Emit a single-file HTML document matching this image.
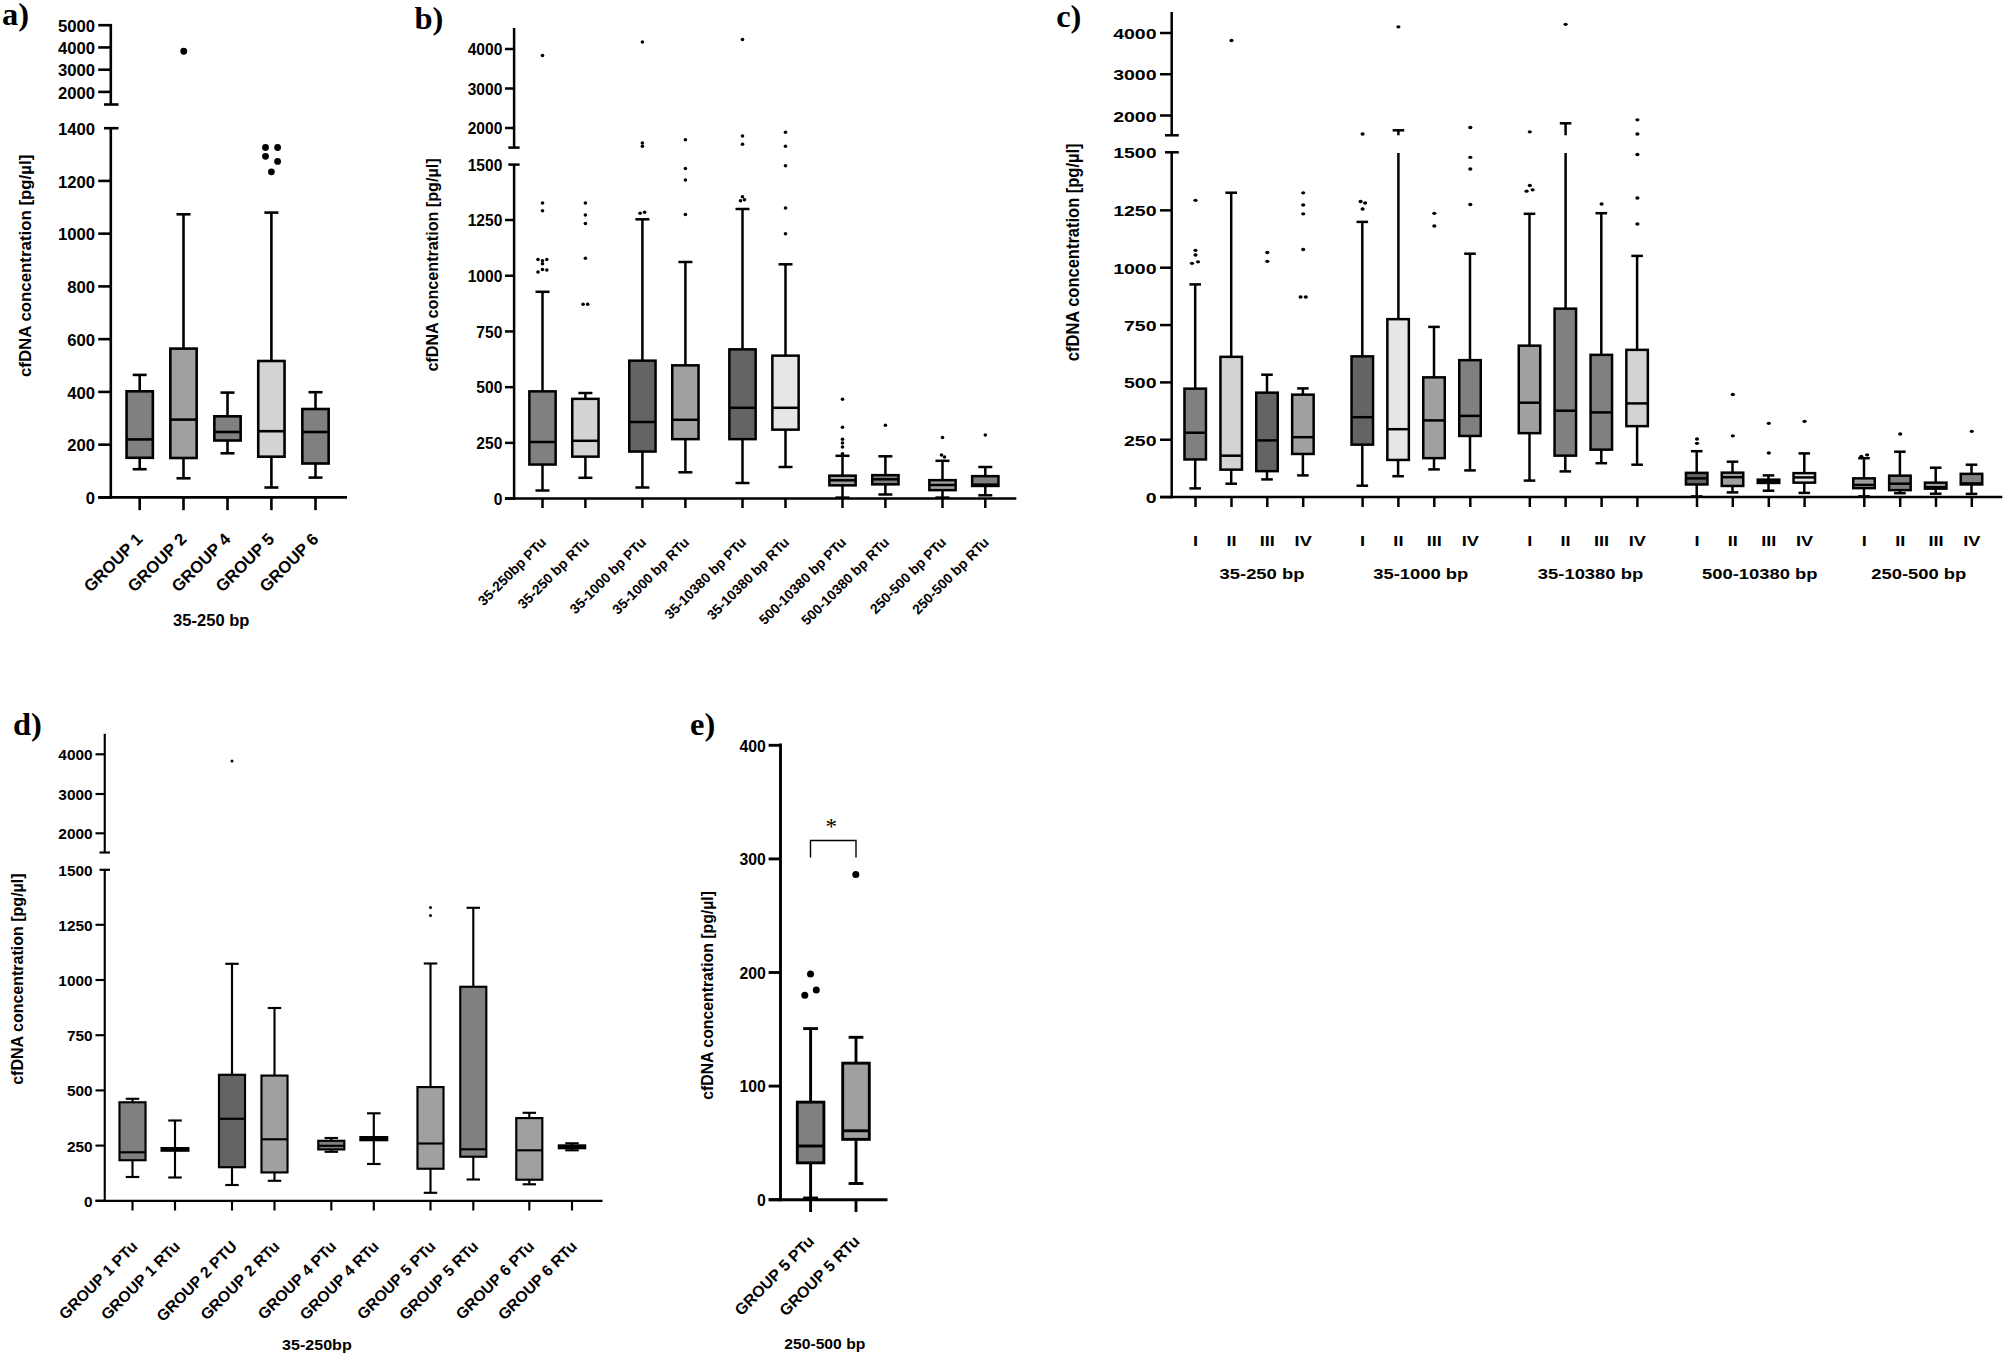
<!DOCTYPE html>
<html lang="en">
<head>
<meta charset="utf-8">
<title>cfDNA concentration box plots</title>
<style>
html,body{margin:0;padding:0;background:#fff;}
body{width:2006px;height:1360px;overflow:hidden;}
svg{display:block;}
text{fill:#000;}
</style>
</head>
<body>
<svg width="2006" height="1360" viewBox="0 0 2006 1360">
<rect width="2006" height="1360" fill="#fff"/>
<text x="1.9" y="25" font-family='"Liberation Serif", "Times New Roman", serif' font-size="32.5" font-weight="bold" text-anchor="start">a)</text>
<line x1="110.8" y1="23.9" x2="110.8" y2="104.5" stroke="#000" stroke-width="2.6" stroke-linecap="butt"/>
<line x1="104" y1="104.5" x2="118.5" y2="104.5" stroke="#000" stroke-width="2.6" stroke-linecap="butt"/>
<line x1="110.8" y1="128.2" x2="110.8" y2="498.7" stroke="#000" stroke-width="2.6" stroke-linecap="butt"/>
<line x1="104" y1="128.2" x2="118.5" y2="128.2" stroke="#000" stroke-width="2.6" stroke-linecap="butt"/>
<line x1="98.2" y1="25.2" x2="110.8" y2="25.2" stroke="#000" stroke-width="2.6" stroke-linecap="butt"/>
<text x="95" y="31.8" font-family='"Liberation Sans", Arial, sans-serif' font-size="16.5" font-weight="bold" text-anchor="end" textLength="37.07" lengthAdjust="spacingAndGlyphs">5000</text>
<line x1="98.2" y1="47.45" x2="110.8" y2="47.45" stroke="#000" stroke-width="2.6" stroke-linecap="butt"/>
<text x="95" y="54.05" font-family='"Liberation Sans", Arial, sans-serif' font-size="16.5" font-weight="bold" text-anchor="end" textLength="37.07" lengthAdjust="spacingAndGlyphs">4000</text>
<line x1="98.2" y1="69.7" x2="110.8" y2="69.7" stroke="#000" stroke-width="2.6" stroke-linecap="butt"/>
<text x="95" y="76.3" font-family='"Liberation Sans", Arial, sans-serif' font-size="16.5" font-weight="bold" text-anchor="end" textLength="37.07" lengthAdjust="spacingAndGlyphs">3000</text>
<line x1="98.2" y1="91.9" x2="110.8" y2="91.9" stroke="#000" stroke-width="2.6" stroke-linecap="butt"/>
<text x="95" y="98.5" font-family='"Liberation Sans", Arial, sans-serif' font-size="16.5" font-weight="bold" text-anchor="end" textLength="37.07" lengthAdjust="spacingAndGlyphs">2000</text>
<text x="95" y="134.8" font-family='"Liberation Sans", Arial, sans-serif' font-size="16.5" font-weight="bold" text-anchor="end" textLength="37.07" lengthAdjust="spacingAndGlyphs">1400</text>
<line x1="98.2" y1="180.9" x2="110.8" y2="180.9" stroke="#000" stroke-width="2.6" stroke-linecap="butt"/>
<text x="95" y="187.5" font-family='"Liberation Sans", Arial, sans-serif' font-size="16.5" font-weight="bold" text-anchor="end" textLength="37.07" lengthAdjust="spacingAndGlyphs">1200</text>
<line x1="98.2" y1="233.65" x2="110.8" y2="233.65" stroke="#000" stroke-width="2.6" stroke-linecap="butt"/>
<text x="95" y="240.25" font-family='"Liberation Sans", Arial, sans-serif' font-size="16.5" font-weight="bold" text-anchor="end" textLength="37.07" lengthAdjust="spacingAndGlyphs">1000</text>
<line x1="98.2" y1="286.4" x2="110.8" y2="286.4" stroke="#000" stroke-width="2.6" stroke-linecap="butt"/>
<text x="95" y="293" font-family='"Liberation Sans", Arial, sans-serif' font-size="16.5" font-weight="bold" text-anchor="end" textLength="27.8" lengthAdjust="spacingAndGlyphs">800</text>
<line x1="98.2" y1="339.15" x2="110.8" y2="339.15" stroke="#000" stroke-width="2.6" stroke-linecap="butt"/>
<text x="95" y="345.75" font-family='"Liberation Sans", Arial, sans-serif' font-size="16.5" font-weight="bold" text-anchor="end" textLength="27.8" lengthAdjust="spacingAndGlyphs">600</text>
<line x1="98.2" y1="391.9" x2="110.8" y2="391.9" stroke="#000" stroke-width="2.6" stroke-linecap="butt"/>
<text x="95" y="398.5" font-family='"Liberation Sans", Arial, sans-serif' font-size="16.5" font-weight="bold" text-anchor="end" textLength="27.8" lengthAdjust="spacingAndGlyphs">400</text>
<line x1="98.2" y1="444.65" x2="110.8" y2="444.65" stroke="#000" stroke-width="2.6" stroke-linecap="butt"/>
<text x="95" y="451.25" font-family='"Liberation Sans", Arial, sans-serif' font-size="16.5" font-weight="bold" text-anchor="end" textLength="27.8" lengthAdjust="spacingAndGlyphs">200</text>
<line x1="98.2" y1="497.4" x2="110.8" y2="497.4" stroke="#000" stroke-width="2.6" stroke-linecap="butt"/>
<text x="95" y="504" font-family='"Liberation Sans", Arial, sans-serif' font-size="16.5" font-weight="bold" text-anchor="end" textLength="9.27" lengthAdjust="spacingAndGlyphs">0</text>
<line x1="98.2" y1="497.4" x2="347" y2="497.4" stroke="#000" stroke-width="2.6" stroke-linecap="butt"/>
<line x1="139.7" y1="497.4" x2="139.7" y2="510.2" stroke="#000" stroke-width="2.6" stroke-linecap="butt"/>
<line x1="183.5" y1="497.4" x2="183.5" y2="510.2" stroke="#000" stroke-width="2.6" stroke-linecap="butt"/>
<line x1="227.5" y1="497.4" x2="227.5" y2="510.2" stroke="#000" stroke-width="2.6" stroke-linecap="butt"/>
<line x1="271.4" y1="497.4" x2="271.4" y2="510.2" stroke="#000" stroke-width="2.6" stroke-linecap="butt"/>
<line x1="315.5" y1="497.4" x2="315.5" y2="510.2" stroke="#000" stroke-width="2.6" stroke-linecap="butt"/>
<text x="30.9" y="265.9" font-family='"Liberation Sans", Arial, sans-serif' font-size="16.6" font-weight="bold" text-anchor="middle" textLength="222.4" lengthAdjust="spacingAndGlyphs" transform="rotate(-90 30.9 265.9)">cfDNA concentration [pg/µl]</text>
<line x1="139.7" y1="374.9" x2="139.7" y2="391.3" stroke="#000" stroke-width="2.6" stroke-linecap="butt"/>
<line x1="132.7" y1="374.9" x2="146.7" y2="374.9" stroke="#000" stroke-width="2.6" stroke-linecap="butt"/>
<line x1="139.7" y1="457.8" x2="139.7" y2="469.2" stroke="#000" stroke-width="2.6" stroke-linecap="butt"/>
<line x1="132.7" y1="469.2" x2="146.7" y2="469.2" stroke="#000" stroke-width="2.6" stroke-linecap="butt"/>
<rect x="126.55" y="391.3" width="26.3" height="66.5" fill="#808080" stroke="#000" stroke-width="2.6"/>
<line x1="126.55" y1="439.4" x2="152.85" y2="439.4" stroke="#000" stroke-width="2.6" stroke-linecap="butt"/>
<line x1="183.5" y1="214.3" x2="183.5" y2="348.6" stroke="#000" stroke-width="2.6" stroke-linecap="butt"/>
<line x1="176.5" y1="214.3" x2="190.5" y2="214.3" stroke="#000" stroke-width="2.6" stroke-linecap="butt"/>
<line x1="183.5" y1="458" x2="183.5" y2="478.3" stroke="#000" stroke-width="2.6" stroke-linecap="butt"/>
<line x1="176.5" y1="478.3" x2="190.5" y2="478.3" stroke="#000" stroke-width="2.6" stroke-linecap="butt"/>
<rect x="170.35" y="348.6" width="26.3" height="109.4" fill="#a0a0a0" stroke="#000" stroke-width="2.6"/>
<line x1="170.35" y1="419.6" x2="196.65" y2="419.6" stroke="#000" stroke-width="2.6" stroke-linecap="butt"/>
<line x1="227.5" y1="392.6" x2="227.5" y2="416.3" stroke="#000" stroke-width="2.6" stroke-linecap="butt"/>
<line x1="220.5" y1="392.6" x2="234.5" y2="392.6" stroke="#000" stroke-width="2.6" stroke-linecap="butt"/>
<line x1="227.5" y1="440.5" x2="227.5" y2="453.3" stroke="#000" stroke-width="2.6" stroke-linecap="butt"/>
<line x1="220.5" y1="453.3" x2="234.5" y2="453.3" stroke="#000" stroke-width="2.6" stroke-linecap="butt"/>
<rect x="214.35" y="416.3" width="26.3" height="24.2" fill="#808080" stroke="#000" stroke-width="2.6"/>
<line x1="214.35" y1="432" x2="240.65" y2="432" stroke="#000" stroke-width="2.6" stroke-linecap="butt"/>
<line x1="271.4" y1="212.6" x2="271.4" y2="361" stroke="#000" stroke-width="2.6" stroke-linecap="butt"/>
<line x1="264.4" y1="212.6" x2="278.4" y2="212.6" stroke="#000" stroke-width="2.6" stroke-linecap="butt"/>
<line x1="271.4" y1="456.7" x2="271.4" y2="487.5" stroke="#000" stroke-width="2.6" stroke-linecap="butt"/>
<line x1="264.4" y1="487.5" x2="278.4" y2="487.5" stroke="#000" stroke-width="2.6" stroke-linecap="butt"/>
<rect x="258.25" y="361" width="26.3" height="95.7" fill="#d3d3d3" stroke="#000" stroke-width="2.6"/>
<line x1="258.25" y1="431.2" x2="284.55" y2="431.2" stroke="#000" stroke-width="2.6" stroke-linecap="butt"/>
<line x1="315.5" y1="392.2" x2="315.5" y2="409" stroke="#000" stroke-width="2.6" stroke-linecap="butt"/>
<line x1="308.5" y1="392.2" x2="322.5" y2="392.2" stroke="#000" stroke-width="2.6" stroke-linecap="butt"/>
<line x1="315.5" y1="463.5" x2="315.5" y2="477.6" stroke="#000" stroke-width="2.6" stroke-linecap="butt"/>
<line x1="308.5" y1="477.6" x2="322.5" y2="477.6" stroke="#000" stroke-width="2.6" stroke-linecap="butt"/>
<rect x="302.35" y="409" width="26.3" height="54.5" fill="#808080" stroke="#000" stroke-width="2.6"/>
<line x1="302.35" y1="432" x2="328.65" y2="432" stroke="#000" stroke-width="2.6" stroke-linecap="butt"/>
<circle cx="183.75" cy="51.25" r="3.4" fill="#000"/>
<circle cx="265.5" cy="147.5" r="3.4" fill="#000"/>
<circle cx="277.6" cy="147.5" r="3.4" fill="#000"/>
<circle cx="265.5" cy="156.3" r="3.4" fill="#000"/>
<circle cx="277.6" cy="161.4" r="3.4" fill="#000"/>
<circle cx="271.4" cy="171.8" r="3.4" fill="#000"/>
<text x="143.7" y="540.2" font-family='"Liberation Sans", Arial, sans-serif' font-size="16.7" font-weight="bold" text-anchor="end" transform="rotate(-45 143.7 540.2)">GROUP 1</text>
<text x="187.5" y="540.2" font-family='"Liberation Sans", Arial, sans-serif' font-size="16.7" font-weight="bold" text-anchor="end" transform="rotate(-45 187.5 540.2)">GROUP 2</text>
<text x="231.5" y="540.2" font-family='"Liberation Sans", Arial, sans-serif' font-size="16.7" font-weight="bold" text-anchor="end" transform="rotate(-45 231.5 540.2)">GROUP 4</text>
<text x="275.4" y="540.2" font-family='"Liberation Sans", Arial, sans-serif' font-size="16.7" font-weight="bold" text-anchor="end" transform="rotate(-45 275.4 540.2)">GROUP 5</text>
<text x="319.5" y="540.2" font-family='"Liberation Sans", Arial, sans-serif' font-size="16.7" font-weight="bold" text-anchor="end" transform="rotate(-45 319.5 540.2)">GROUP 6</text>
<text x="211.3" y="626.2" font-family='"Liberation Sans", Arial, sans-serif' font-size="16.6" font-weight="bold" text-anchor="middle" textLength="76.4" lengthAdjust="spacingAndGlyphs">35-250 bp</text>
<text x="414.4" y="28.5" font-family='"Liberation Serif", "Times New Roman", serif' font-size="32.5" font-weight="bold" text-anchor="start">b)</text>
<line x1="514.1" y1="28" x2="514.1" y2="147.6" stroke="#000" stroke-width="2.5" stroke-linecap="butt"/>
<line x1="508.3" y1="147.6" x2="519.6" y2="147.6" stroke="#000" stroke-width="2.5" stroke-linecap="butt"/>
<line x1="514.1" y1="164.6" x2="514.1" y2="499.85" stroke="#000" stroke-width="2.5" stroke-linecap="butt"/>
<line x1="508.3" y1="164.6" x2="519.6" y2="164.6" stroke="#000" stroke-width="2.5" stroke-linecap="butt"/>
<line x1="505" y1="49" x2="514.1" y2="49" stroke="#000" stroke-width="2.5" stroke-linecap="butt"/>
<text x="502.4" y="55.2" font-family='"Liberation Sans", Arial, sans-serif' font-size="15.6" font-weight="bold" text-anchor="end">4000</text>
<line x1="505" y1="88.5" x2="514.1" y2="88.5" stroke="#000" stroke-width="2.5" stroke-linecap="butt"/>
<text x="502.4" y="94.7" font-family='"Liberation Sans", Arial, sans-serif' font-size="15.6" font-weight="bold" text-anchor="end">3000</text>
<line x1="505" y1="128" x2="514.1" y2="128" stroke="#000" stroke-width="2.5" stroke-linecap="butt"/>
<text x="502.4" y="134.2" font-family='"Liberation Sans", Arial, sans-serif' font-size="15.6" font-weight="bold" text-anchor="end">2000</text>
<text x="502.4" y="170.8" font-family='"Liberation Sans", Arial, sans-serif' font-size="15.6" font-weight="bold" text-anchor="end">1500</text>
<line x1="505" y1="220" x2="514.1" y2="220" stroke="#000" stroke-width="2.5" stroke-linecap="butt"/>
<text x="502.4" y="226.2" font-family='"Liberation Sans", Arial, sans-serif' font-size="15.6" font-weight="bold" text-anchor="end">1250</text>
<line x1="505" y1="275.72" x2="514.1" y2="275.72" stroke="#000" stroke-width="2.5" stroke-linecap="butt"/>
<text x="502.4" y="281.92" font-family='"Liberation Sans", Arial, sans-serif' font-size="15.6" font-weight="bold" text-anchor="end">1000</text>
<line x1="505" y1="331.44" x2="514.1" y2="331.44" stroke="#000" stroke-width="2.5" stroke-linecap="butt"/>
<text x="502.4" y="337.64" font-family='"Liberation Sans", Arial, sans-serif' font-size="15.6" font-weight="bold" text-anchor="end">750</text>
<line x1="505" y1="387.16" x2="514.1" y2="387.16" stroke="#000" stroke-width="2.5" stroke-linecap="butt"/>
<text x="502.4" y="393.36" font-family='"Liberation Sans", Arial, sans-serif' font-size="15.6" font-weight="bold" text-anchor="end">500</text>
<line x1="505" y1="442.88" x2="514.1" y2="442.88" stroke="#000" stroke-width="2.5" stroke-linecap="butt"/>
<text x="502.4" y="449.08" font-family='"Liberation Sans", Arial, sans-serif' font-size="15.6" font-weight="bold" text-anchor="end">250</text>
<line x1="505" y1="498.6" x2="514.1" y2="498.6" stroke="#000" stroke-width="2.5" stroke-linecap="butt"/>
<text x="502.4" y="504.8" font-family='"Liberation Sans", Arial, sans-serif' font-size="15.6" font-weight="bold" text-anchor="end">0</text>
<line x1="505" y1="498.6" x2="1016.3" y2="498.6" stroke="#000" stroke-width="2.5" stroke-linecap="butt"/>
<line x1="542.5" y1="498.6" x2="542.5" y2="508" stroke="#000" stroke-width="2.5" stroke-linecap="butt"/>
<line x1="585.4" y1="498.6" x2="585.4" y2="508" stroke="#000" stroke-width="2.5" stroke-linecap="butt"/>
<line x1="642.4" y1="498.6" x2="642.4" y2="508" stroke="#000" stroke-width="2.5" stroke-linecap="butt"/>
<line x1="685.4" y1="498.6" x2="685.4" y2="508" stroke="#000" stroke-width="2.5" stroke-linecap="butt"/>
<line x1="742.5" y1="498.6" x2="742.5" y2="508" stroke="#000" stroke-width="2.5" stroke-linecap="butt"/>
<line x1="785.5" y1="498.6" x2="785.5" y2="508" stroke="#000" stroke-width="2.5" stroke-linecap="butt"/>
<line x1="842.5" y1="498.6" x2="842.5" y2="508" stroke="#000" stroke-width="2.5" stroke-linecap="butt"/>
<line x1="885.4" y1="498.6" x2="885.4" y2="508" stroke="#000" stroke-width="2.5" stroke-linecap="butt"/>
<line x1="942.5" y1="498.6" x2="942.5" y2="508" stroke="#000" stroke-width="2.5" stroke-linecap="butt"/>
<line x1="985.3" y1="498.6" x2="985.3" y2="508" stroke="#000" stroke-width="2.5" stroke-linecap="butt"/>
<text x="437.5" y="265" font-family='"Liberation Sans", Arial, sans-serif' font-size="16" font-weight="bold" text-anchor="middle" textLength="213.2" lengthAdjust="spacingAndGlyphs" transform="rotate(-90 437.5 265)">cfDNA concentration [pg/µl]</text>
<line x1="542.5" y1="291.8" x2="542.5" y2="391.35" stroke="#000" stroke-width="2.5" stroke-linecap="butt"/>
<line x1="535.5" y1="291.8" x2="549.5" y2="291.8" stroke="#000" stroke-width="2.5" stroke-linecap="butt"/>
<line x1="542.5" y1="464.55" x2="542.5" y2="490.5" stroke="#000" stroke-width="2.5" stroke-linecap="butt"/>
<line x1="535.5" y1="490.5" x2="549.5" y2="490.5" stroke="#000" stroke-width="2.5" stroke-linecap="butt"/>
<rect x="529.35" y="391.35" width="26.3" height="73.2" fill="#808080" stroke="#000" stroke-width="2.5"/>
<line x1="529.35" y1="442" x2="555.65" y2="442" stroke="#000" stroke-width="2.5" stroke-linecap="butt"/>
<line x1="585.4" y1="393" x2="585.4" y2="398.85" stroke="#000" stroke-width="2.5" stroke-linecap="butt"/>
<line x1="578.4" y1="393" x2="592.4" y2="393" stroke="#000" stroke-width="2.5" stroke-linecap="butt"/>
<line x1="585.4" y1="456.65" x2="585.4" y2="477.8" stroke="#000" stroke-width="2.5" stroke-linecap="butt"/>
<line x1="578.4" y1="477.8" x2="592.4" y2="477.8" stroke="#000" stroke-width="2.5" stroke-linecap="butt"/>
<rect x="572.25" y="398.85" width="26.3" height="57.8" fill="#d3d3d3" stroke="#000" stroke-width="2.5"/>
<line x1="572.25" y1="440.8" x2="598.55" y2="440.8" stroke="#000" stroke-width="2.5" stroke-linecap="butt"/>
<line x1="642.4" y1="219.3" x2="642.4" y2="360.65" stroke="#000" stroke-width="2.5" stroke-linecap="butt"/>
<line x1="635.4" y1="219.3" x2="649.4" y2="219.3" stroke="#000" stroke-width="2.5" stroke-linecap="butt"/>
<line x1="642.4" y1="451.55" x2="642.4" y2="487.5" stroke="#000" stroke-width="2.5" stroke-linecap="butt"/>
<line x1="635.4" y1="487.5" x2="649.4" y2="487.5" stroke="#000" stroke-width="2.5" stroke-linecap="butt"/>
<rect x="629.25" y="360.65" width="26.3" height="90.9" fill="#646464" stroke="#000" stroke-width="2.5"/>
<line x1="629.25" y1="422" x2="655.55" y2="422" stroke="#000" stroke-width="2.5" stroke-linecap="butt"/>
<line x1="685.4" y1="262" x2="685.4" y2="365.35" stroke="#000" stroke-width="2.5" stroke-linecap="butt"/>
<line x1="678.4" y1="262" x2="692.4" y2="262" stroke="#000" stroke-width="2.5" stroke-linecap="butt"/>
<line x1="685.4" y1="439.15" x2="685.4" y2="472.3" stroke="#000" stroke-width="2.5" stroke-linecap="butt"/>
<line x1="678.4" y1="472.3" x2="692.4" y2="472.3" stroke="#000" stroke-width="2.5" stroke-linecap="butt"/>
<rect x="672.25" y="365.35" width="26.3" height="73.8" fill="#a0a0a0" stroke="#000" stroke-width="2.5"/>
<line x1="672.25" y1="419.8" x2="698.55" y2="419.8" stroke="#000" stroke-width="2.5" stroke-linecap="butt"/>
<line x1="742.5" y1="209" x2="742.5" y2="349.35" stroke="#000" stroke-width="2.5" stroke-linecap="butt"/>
<line x1="735.5" y1="209" x2="749.5" y2="209" stroke="#000" stroke-width="2.5" stroke-linecap="butt"/>
<line x1="742.5" y1="439.15" x2="742.5" y2="483" stroke="#000" stroke-width="2.5" stroke-linecap="butt"/>
<line x1="735.5" y1="483" x2="749.5" y2="483" stroke="#000" stroke-width="2.5" stroke-linecap="butt"/>
<rect x="729.35" y="349.35" width="26.3" height="89.8" fill="#646464" stroke="#000" stroke-width="2.5"/>
<line x1="729.35" y1="407.8" x2="755.65" y2="407.8" stroke="#000" stroke-width="2.5" stroke-linecap="butt"/>
<line x1="785.5" y1="264.3" x2="785.5" y2="355.65" stroke="#000" stroke-width="2.5" stroke-linecap="butt"/>
<line x1="778.5" y1="264.3" x2="792.5" y2="264.3" stroke="#000" stroke-width="2.5" stroke-linecap="butt"/>
<line x1="785.5" y1="429.65" x2="785.5" y2="467" stroke="#000" stroke-width="2.5" stroke-linecap="butt"/>
<line x1="778.5" y1="467" x2="792.5" y2="467" stroke="#000" stroke-width="2.5" stroke-linecap="butt"/>
<rect x="772.35" y="355.65" width="26.3" height="74" fill="#e6e6e6" stroke="#000" stroke-width="2.5"/>
<line x1="772.35" y1="407.8" x2="798.65" y2="407.8" stroke="#000" stroke-width="2.5" stroke-linecap="butt"/>
<line x1="842.5" y1="455.8" x2="842.5" y2="475.65" stroke="#000" stroke-width="2.5" stroke-linecap="butt"/>
<line x1="835.5" y1="455.8" x2="849.5" y2="455.8" stroke="#000" stroke-width="2.5" stroke-linecap="butt"/>
<line x1="842.5" y1="485.35" x2="842.5" y2="497.6" stroke="#000" stroke-width="2.5" stroke-linecap="butt"/>
<line x1="835.5" y1="497.6" x2="849.5" y2="497.6" stroke="#000" stroke-width="2.5" stroke-linecap="butt"/>
<rect x="829.35" y="475.65" width="26.3" height="9.7" fill="#a0a0a0" stroke="#000" stroke-width="2.5"/>
<line x1="829.35" y1="480.3" x2="855.65" y2="480.3" stroke="#000" stroke-width="2.5" stroke-linecap="butt"/>
<line x1="885.4" y1="456.3" x2="885.4" y2="475.15" stroke="#000" stroke-width="2.5" stroke-linecap="butt"/>
<line x1="878.4" y1="456.3" x2="892.4" y2="456.3" stroke="#000" stroke-width="2.5" stroke-linecap="butt"/>
<line x1="885.4" y1="484.35" x2="885.4" y2="494.5" stroke="#000" stroke-width="2.5" stroke-linecap="butt"/>
<line x1="878.4" y1="494.5" x2="892.4" y2="494.5" stroke="#000" stroke-width="2.5" stroke-linecap="butt"/>
<rect x="872.25" y="475.15" width="26.3" height="9.2" fill="#808080" stroke="#000" stroke-width="2.5"/>
<line x1="872.25" y1="479.3" x2="898.55" y2="479.3" stroke="#000" stroke-width="2.5" stroke-linecap="butt"/>
<line x1="942.5" y1="460.8" x2="942.5" y2="480.15" stroke="#000" stroke-width="2.5" stroke-linecap="butt"/>
<line x1="935.5" y1="460.8" x2="949.5" y2="460.8" stroke="#000" stroke-width="2.5" stroke-linecap="butt"/>
<line x1="942.5" y1="490.15" x2="942.5" y2="497.6" stroke="#000" stroke-width="2.5" stroke-linecap="butt"/>
<line x1="935.5" y1="497.6" x2="949.5" y2="497.6" stroke="#000" stroke-width="2.5" stroke-linecap="butt"/>
<rect x="929.35" y="480.15" width="26.3" height="10" fill="#a0a0a0" stroke="#000" stroke-width="2.5"/>
<line x1="929.35" y1="485" x2="955.65" y2="485" stroke="#000" stroke-width="2.5" stroke-linecap="butt"/>
<line x1="985.3" y1="467" x2="985.3" y2="476.15" stroke="#000" stroke-width="2.5" stroke-linecap="butt"/>
<line x1="978.3" y1="467" x2="992.3" y2="467" stroke="#000" stroke-width="2.5" stroke-linecap="butt"/>
<line x1="985.3" y1="485.95" x2="985.3" y2="495.3" stroke="#000" stroke-width="2.5" stroke-linecap="butt"/>
<line x1="978.3" y1="495.3" x2="992.3" y2="495.3" stroke="#000" stroke-width="2.5" stroke-linecap="butt"/>
<rect x="972.15" y="476.15" width="26.3" height="9.8" fill="#808080" stroke="#000" stroke-width="2.5"/>
<line x1="972.15" y1="484.6" x2="998.45" y2="484.6" stroke="#000" stroke-width="2.5" stroke-linecap="butt"/>
<circle cx="542.5" cy="55.5" r="1.8" fill="#000"/>
<circle cx="542.5" cy="203" r="1.8" fill="#000"/>
<circle cx="542.5" cy="210.8" r="1.8" fill="#000"/>
<circle cx="538" cy="259.5" r="1.8" fill="#000"/>
<circle cx="546.8" cy="259.5" r="1.8" fill="#000"/>
<circle cx="542.5" cy="260.8" r="1.8" fill="#000"/>
<circle cx="542.5" cy="263.8" r="1.8" fill="#000"/>
<circle cx="538" cy="272" r="1.8" fill="#000"/>
<circle cx="542.5" cy="269.5" r="1.8" fill="#000"/>
<circle cx="546.8" cy="270" r="1.8" fill="#000"/>
<circle cx="585.4" cy="203" r="1.8" fill="#000"/>
<circle cx="585.4" cy="215" r="1.8" fill="#000"/>
<circle cx="585.4" cy="223.5" r="1.8" fill="#000"/>
<circle cx="585.4" cy="258.3" r="1.8" fill="#000"/>
<circle cx="583.1" cy="304.3" r="1.8" fill="#000"/>
<circle cx="587.7" cy="304.3" r="1.8" fill="#000"/>
<circle cx="642.4" cy="42" r="1.8" fill="#000"/>
<circle cx="642.4" cy="143" r="1.8" fill="#000"/>
<circle cx="642.4" cy="146.3" r="1.8" fill="#000"/>
<circle cx="640.1" cy="213.3" r="1.8" fill="#000"/>
<circle cx="644.6" cy="212.3" r="1.8" fill="#000"/>
<circle cx="685.4" cy="139.8" r="1.8" fill="#000"/>
<circle cx="685.4" cy="168.5" r="1.8" fill="#000"/>
<circle cx="685.4" cy="180" r="1.8" fill="#000"/>
<circle cx="685.4" cy="214.5" r="1.8" fill="#000"/>
<circle cx="742.5" cy="39.5" r="1.8" fill="#000"/>
<circle cx="742.5" cy="136" r="1.8" fill="#000"/>
<circle cx="742.5" cy="144.3" r="1.8" fill="#000"/>
<circle cx="742.5" cy="196.8" r="1.8" fill="#000"/>
<circle cx="740.5" cy="200.8" r="1.8" fill="#000"/>
<circle cx="744.5" cy="199.8" r="1.8" fill="#000"/>
<circle cx="785.5" cy="132.3" r="1.8" fill="#000"/>
<circle cx="785.5" cy="146.3" r="1.8" fill="#000"/>
<circle cx="785.5" cy="165.8" r="1.8" fill="#000"/>
<circle cx="785.5" cy="208" r="1.8" fill="#000"/>
<circle cx="785.5" cy="233.8" r="1.8" fill="#000"/>
<circle cx="842.5" cy="399.3" r="1.8" fill="#000"/>
<circle cx="842.5" cy="427.3" r="1.8" fill="#000"/>
<circle cx="842.5" cy="439.3" r="1.8" fill="#000"/>
<circle cx="842.5" cy="443" r="1.8" fill="#000"/>
<circle cx="842.5" cy="447" r="1.8" fill="#000"/>
<circle cx="842.5" cy="453.8" r="1.8" fill="#000"/>
<circle cx="885.4" cy="425.3" r="1.8" fill="#000"/>
<circle cx="942.5" cy="437.5" r="1.8" fill="#000"/>
<circle cx="941.5" cy="455" r="1.8" fill="#000"/>
<circle cx="944.5" cy="457" r="1.8" fill="#000"/>
<circle cx="985.3" cy="435" r="1.8" fill="#000"/>
<text x="547" y="543.3" font-family='"Liberation Sans", Arial, sans-serif' font-size="13.9" font-weight="bold" text-anchor="end" transform="rotate(-45 547 543.3)">35-250bp PTu</text>
<text x="589.9" y="543.3" font-family='"Liberation Sans", Arial, sans-serif' font-size="13.9" font-weight="bold" text-anchor="end" transform="rotate(-45 589.9 543.3)">35-250 bp RTu</text>
<text x="646.9" y="543.3" font-family='"Liberation Sans", Arial, sans-serif' font-size="13.9" font-weight="bold" text-anchor="end" transform="rotate(-45 646.9 543.3)">35-1000 bp PTu</text>
<text x="689.9" y="543.3" font-family='"Liberation Sans", Arial, sans-serif' font-size="13.9" font-weight="bold" text-anchor="end" transform="rotate(-45 689.9 543.3)">35-1000 bp RTu</text>
<text x="747" y="543.3" font-family='"Liberation Sans", Arial, sans-serif' font-size="13.9" font-weight="bold" text-anchor="end" transform="rotate(-45 747 543.3)">35-10380 bp PTu</text>
<text x="790" y="543.3" font-family='"Liberation Sans", Arial, sans-serif' font-size="13.9" font-weight="bold" text-anchor="end" transform="rotate(-45 790 543.3)">35-10380 bp RTu</text>
<text x="847" y="543.3" font-family='"Liberation Sans", Arial, sans-serif' font-size="13.9" font-weight="bold" text-anchor="end" transform="rotate(-45 847 543.3)">500-10380 bp PTu</text>
<text x="889.9" y="543.3" font-family='"Liberation Sans", Arial, sans-serif' font-size="13.9" font-weight="bold" text-anchor="end" transform="rotate(-45 889.9 543.3)">500-10380 bp RTu</text>
<text x="947" y="543.3" font-family='"Liberation Sans", Arial, sans-serif' font-size="13.9" font-weight="bold" text-anchor="end" transform="rotate(-45 947 543.3)">250-500 bp PTu</text>
<text x="989.8" y="543.3" font-family='"Liberation Sans", Arial, sans-serif' font-size="13.9" font-weight="bold" text-anchor="end" transform="rotate(-45 989.8 543.3)">250-500 bp RTu</text>
<text x="1056.2" y="27" font-family='"Liberation Serif", "Times New Roman", serif' font-size="32.5" font-weight="bold" text-anchor="start">c)</text>
<line x1="1171.7" y1="12" x2="1171.7" y2="135.3" stroke="#000" stroke-width="2.5" stroke-linecap="butt"/>
<line x1="1165" y1="135.3" x2="1178.8" y2="135.3" stroke="#000" stroke-width="2.5" stroke-linecap="butt"/>
<line x1="1171.7" y1="152.3" x2="1171.7" y2="498.35" stroke="#000" stroke-width="2.5" stroke-linecap="butt"/>
<line x1="1165" y1="152.3" x2="1178.8" y2="152.3" stroke="#000" stroke-width="2.5" stroke-linecap="butt"/>
<line x1="1160" y1="33" x2="1171.7" y2="33" stroke="#000" stroke-width="2.5" stroke-linecap="butt"/>
<text x="1156.6" y="39" font-family='"Liberation Sans", Arial, sans-serif' font-size="15.5" font-weight="bold" text-anchor="end" textLength="43.44" lengthAdjust="spacingAndGlyphs">4000</text>
<line x1="1160" y1="74.25" x2="1171.7" y2="74.25" stroke="#000" stroke-width="2.5" stroke-linecap="butt"/>
<text x="1156.6" y="80.25" font-family='"Liberation Sans", Arial, sans-serif' font-size="15.5" font-weight="bold" text-anchor="end" textLength="43.44" lengthAdjust="spacingAndGlyphs">3000</text>
<line x1="1160" y1="115.5" x2="1171.7" y2="115.5" stroke="#000" stroke-width="2.5" stroke-linecap="butt"/>
<text x="1156.6" y="121.5" font-family='"Liberation Sans", Arial, sans-serif' font-size="15.5" font-weight="bold" text-anchor="end" textLength="43.44" lengthAdjust="spacingAndGlyphs">2000</text>
<text x="1156.6" y="158.3" font-family='"Liberation Sans", Arial, sans-serif' font-size="15.5" font-weight="bold" text-anchor="end" textLength="43.44" lengthAdjust="spacingAndGlyphs">1500</text>
<line x1="1160" y1="210.35" x2="1171.7" y2="210.35" stroke="#000" stroke-width="2.5" stroke-linecap="butt"/>
<text x="1156.6" y="216.35" font-family='"Liberation Sans", Arial, sans-serif' font-size="15.5" font-weight="bold" text-anchor="end" textLength="43.44" lengthAdjust="spacingAndGlyphs">1250</text>
<line x1="1160" y1="267.7" x2="1171.7" y2="267.7" stroke="#000" stroke-width="2.5" stroke-linecap="butt"/>
<text x="1156.6" y="273.7" font-family='"Liberation Sans", Arial, sans-serif' font-size="15.5" font-weight="bold" text-anchor="end" textLength="43.44" lengthAdjust="spacingAndGlyphs">1000</text>
<line x1="1160" y1="325.05" x2="1171.7" y2="325.05" stroke="#000" stroke-width="2.5" stroke-linecap="butt"/>
<text x="1156.6" y="331.05" font-family='"Liberation Sans", Arial, sans-serif' font-size="15.5" font-weight="bold" text-anchor="end" textLength="32.58" lengthAdjust="spacingAndGlyphs">750</text>
<line x1="1160" y1="382.4" x2="1171.7" y2="382.4" stroke="#000" stroke-width="2.5" stroke-linecap="butt"/>
<text x="1156.6" y="388.4" font-family='"Liberation Sans", Arial, sans-serif' font-size="15.5" font-weight="bold" text-anchor="end" textLength="32.58" lengthAdjust="spacingAndGlyphs">500</text>
<line x1="1160" y1="439.75" x2="1171.7" y2="439.75" stroke="#000" stroke-width="2.5" stroke-linecap="butt"/>
<text x="1156.6" y="445.75" font-family='"Liberation Sans", Arial, sans-serif' font-size="15.5" font-weight="bold" text-anchor="end" textLength="32.58" lengthAdjust="spacingAndGlyphs">250</text>
<line x1="1160" y1="497.1" x2="1171.7" y2="497.1" stroke="#000" stroke-width="2.5" stroke-linecap="butt"/>
<text x="1156.6" y="503.1" font-family='"Liberation Sans", Arial, sans-serif' font-size="15.5" font-weight="bold" text-anchor="end" textLength="10.86" lengthAdjust="spacingAndGlyphs">0</text>
<line x1="1160" y1="497.1" x2="2002.3" y2="497.1" stroke="#000" stroke-width="2.5" stroke-linecap="butt"/>
<line x1="1195.5" y1="497.1" x2="1195.5" y2="507" stroke="#000" stroke-width="2.5" stroke-linecap="butt"/>
<line x1="1231.5" y1="497.1" x2="1231.5" y2="507" stroke="#000" stroke-width="2.5" stroke-linecap="butt"/>
<line x1="1267.3" y1="497.1" x2="1267.3" y2="507" stroke="#000" stroke-width="2.5" stroke-linecap="butt"/>
<line x1="1303.2" y1="497.1" x2="1303.2" y2="507" stroke="#000" stroke-width="2.5" stroke-linecap="butt"/>
<line x1="1362.6" y1="497.1" x2="1362.6" y2="507" stroke="#000" stroke-width="2.5" stroke-linecap="butt"/>
<line x1="1398.4" y1="497.1" x2="1398.4" y2="507" stroke="#000" stroke-width="2.5" stroke-linecap="butt"/>
<line x1="1434.3" y1="497.1" x2="1434.3" y2="507" stroke="#000" stroke-width="2.5" stroke-linecap="butt"/>
<line x1="1470.3" y1="497.1" x2="1470.3" y2="507" stroke="#000" stroke-width="2.5" stroke-linecap="butt"/>
<line x1="1529.8" y1="497.1" x2="1529.8" y2="507" stroke="#000" stroke-width="2.5" stroke-linecap="butt"/>
<line x1="1565.6" y1="497.1" x2="1565.6" y2="507" stroke="#000" stroke-width="2.5" stroke-linecap="butt"/>
<line x1="1601.6" y1="497.1" x2="1601.6" y2="507" stroke="#000" stroke-width="2.5" stroke-linecap="butt"/>
<line x1="1637.4" y1="497.1" x2="1637.4" y2="507" stroke="#000" stroke-width="2.5" stroke-linecap="butt"/>
<line x1="1697" y1="497.1" x2="1697" y2="507" stroke="#000" stroke-width="2.5" stroke-linecap="butt"/>
<line x1="1732.8" y1="497.1" x2="1732.8" y2="507" stroke="#000" stroke-width="2.5" stroke-linecap="butt"/>
<line x1="1768.8" y1="497.1" x2="1768.8" y2="507" stroke="#000" stroke-width="2.5" stroke-linecap="butt"/>
<line x1="1804.6" y1="497.1" x2="1804.6" y2="507" stroke="#000" stroke-width="2.5" stroke-linecap="butt"/>
<line x1="1864.3" y1="497.1" x2="1864.3" y2="507" stroke="#000" stroke-width="2.5" stroke-linecap="butt"/>
<line x1="1900.2" y1="497.1" x2="1900.2" y2="507" stroke="#000" stroke-width="2.5" stroke-linecap="butt"/>
<line x1="1936" y1="497.1" x2="1936" y2="507" stroke="#000" stroke-width="2.5" stroke-linecap="butt"/>
<line x1="1971.8" y1="497.1" x2="1971.8" y2="507" stroke="#000" stroke-width="2.5" stroke-linecap="butt"/>
<text x="0" y="0" font-family='"Liberation Sans", Arial, sans-serif' font-size="16.3" font-weight="bold" text-anchor="middle" textLength="217.8" lengthAdjust="spacingAndGlyphs" transform="translate(1078.5 252.3) rotate(-90) scale(1 1.14)">cfDNA concentration [pg/µl]</text>
<line x1="1195.2" y1="284.4" x2="1195.2" y2="388.65" stroke="#000" stroke-width="2.5" stroke-linecap="butt"/>
<line x1="1189.4" y1="284.4" x2="1201" y2="284.4" stroke="#000" stroke-width="2.5" stroke-linecap="butt"/>
<line x1="1195.2" y1="459.45" x2="1195.2" y2="488.4" stroke="#000" stroke-width="2.5" stroke-linecap="butt"/>
<line x1="1189.4" y1="488.4" x2="1201" y2="488.4" stroke="#000" stroke-width="2.5" stroke-linecap="butt"/>
<rect x="1184.45" y="388.65" width="21.5" height="70.8" fill="#808080" stroke="#000" stroke-width="2.5"/>
<line x1="1184.45" y1="432.7" x2="1205.95" y2="432.7" stroke="#000" stroke-width="2.5" stroke-linecap="butt"/>
<line x1="1231.2" y1="192.7" x2="1231.2" y2="356.85" stroke="#000" stroke-width="2.5" stroke-linecap="butt"/>
<line x1="1225.4" y1="192.7" x2="1237" y2="192.7" stroke="#000" stroke-width="2.5" stroke-linecap="butt"/>
<line x1="1231.2" y1="469.65" x2="1231.2" y2="483.7" stroke="#000" stroke-width="2.5" stroke-linecap="butt"/>
<line x1="1225.4" y1="483.7" x2="1237" y2="483.7" stroke="#000" stroke-width="2.5" stroke-linecap="butt"/>
<rect x="1220.45" y="356.85" width="21.5" height="112.8" fill="#d3d3d3" stroke="#000" stroke-width="2.5"/>
<line x1="1220.45" y1="455.7" x2="1241.95" y2="455.7" stroke="#000" stroke-width="2.5" stroke-linecap="butt"/>
<line x1="1267" y1="374.7" x2="1267" y2="392.65" stroke="#000" stroke-width="2.5" stroke-linecap="butt"/>
<line x1="1261.2" y1="374.7" x2="1272.8" y2="374.7" stroke="#000" stroke-width="2.5" stroke-linecap="butt"/>
<line x1="1267" y1="471.15" x2="1267" y2="479.4" stroke="#000" stroke-width="2.5" stroke-linecap="butt"/>
<line x1="1261.2" y1="479.4" x2="1272.8" y2="479.4" stroke="#000" stroke-width="2.5" stroke-linecap="butt"/>
<rect x="1256.25" y="392.65" width="21.5" height="78.5" fill="#646464" stroke="#000" stroke-width="2.5"/>
<line x1="1256.25" y1="440.4" x2="1277.75" y2="440.4" stroke="#000" stroke-width="2.5" stroke-linecap="butt"/>
<line x1="1302.9" y1="388.4" x2="1302.9" y2="394.65" stroke="#000" stroke-width="2.5" stroke-linecap="butt"/>
<line x1="1297.1" y1="388.4" x2="1308.7" y2="388.4" stroke="#000" stroke-width="2.5" stroke-linecap="butt"/>
<line x1="1302.9" y1="453.95" x2="1302.9" y2="475.4" stroke="#000" stroke-width="2.5" stroke-linecap="butt"/>
<line x1="1297.1" y1="475.4" x2="1308.7" y2="475.4" stroke="#000" stroke-width="2.5" stroke-linecap="butt"/>
<rect x="1292.15" y="394.65" width="21.5" height="59.3" fill="#a0a0a0" stroke="#000" stroke-width="2.5"/>
<line x1="1292.15" y1="437.2" x2="1313.65" y2="437.2" stroke="#000" stroke-width="2.5" stroke-linecap="butt"/>
<line x1="1362.3" y1="221.9" x2="1362.3" y2="356.35" stroke="#000" stroke-width="2.5" stroke-linecap="butt"/>
<line x1="1356.5" y1="221.9" x2="1368.1" y2="221.9" stroke="#000" stroke-width="2.5" stroke-linecap="butt"/>
<line x1="1362.3" y1="444.65" x2="1362.3" y2="485.7" stroke="#000" stroke-width="2.5" stroke-linecap="butt"/>
<line x1="1356.5" y1="485.7" x2="1368.1" y2="485.7" stroke="#000" stroke-width="2.5" stroke-linecap="butt"/>
<rect x="1351.55" y="356.35" width="21.5" height="88.3" fill="#646464" stroke="#000" stroke-width="2.5"/>
<line x1="1351.55" y1="417.2" x2="1373.05" y2="417.2" stroke="#000" stroke-width="2.5" stroke-linecap="butt"/>
<line x1="1398.1" y1="459.95" x2="1398.1" y2="476.2" stroke="#000" stroke-width="2.5" stroke-linecap="butt"/>
<line x1="1392.3" y1="476.2" x2="1403.9" y2="476.2" stroke="#000" stroke-width="2.5" stroke-linecap="butt"/>
<rect x="1387.35" y="319.15" width="21.5" height="140.8" fill="#e6e6e6" stroke="#000" stroke-width="2.5"/>
<line x1="1387.35" y1="429.2" x2="1408.85" y2="429.2" stroke="#000" stroke-width="2.5" stroke-linecap="butt"/>
<line x1="1398.4" y1="153" x2="1398.4" y2="319" stroke="#000" stroke-width="2.5" stroke-linecap="butt"/>
<line x1="1398.4" y1="130.3" x2="1398.4" y2="135.3" stroke="#000" stroke-width="2.5" stroke-linecap="butt"/>
<line x1="1392.6" y1="130.3" x2="1404.2" y2="130.3" stroke="#000" stroke-width="2.5" stroke-linecap="butt"/>
<line x1="1434" y1="326.9" x2="1434" y2="377.35" stroke="#000" stroke-width="2.5" stroke-linecap="butt"/>
<line x1="1428.2" y1="326.9" x2="1439.8" y2="326.9" stroke="#000" stroke-width="2.5" stroke-linecap="butt"/>
<line x1="1434" y1="458.15" x2="1434" y2="469.4" stroke="#000" stroke-width="2.5" stroke-linecap="butt"/>
<line x1="1428.2" y1="469.4" x2="1439.8" y2="469.4" stroke="#000" stroke-width="2.5" stroke-linecap="butt"/>
<rect x="1423.25" y="377.35" width="21.5" height="80.8" fill="#a0a0a0" stroke="#000" stroke-width="2.5"/>
<line x1="1423.25" y1="420.4" x2="1444.75" y2="420.4" stroke="#000" stroke-width="2.5" stroke-linecap="butt"/>
<line x1="1470" y1="253.7" x2="1470" y2="360.15" stroke="#000" stroke-width="2.5" stroke-linecap="butt"/>
<line x1="1464.2" y1="253.7" x2="1475.8" y2="253.7" stroke="#000" stroke-width="2.5" stroke-linecap="butt"/>
<line x1="1470" y1="435.95" x2="1470" y2="470.4" stroke="#000" stroke-width="2.5" stroke-linecap="butt"/>
<line x1="1464.2" y1="470.4" x2="1475.8" y2="470.4" stroke="#000" stroke-width="2.5" stroke-linecap="butt"/>
<rect x="1459.25" y="360.15" width="21.5" height="75.8" fill="#808080" stroke="#000" stroke-width="2.5"/>
<line x1="1459.25" y1="415.9" x2="1480.75" y2="415.9" stroke="#000" stroke-width="2.5" stroke-linecap="butt"/>
<line x1="1529.5" y1="213.8" x2="1529.5" y2="345.65" stroke="#000" stroke-width="2.5" stroke-linecap="butt"/>
<line x1="1523.7" y1="213.8" x2="1535.3" y2="213.8" stroke="#000" stroke-width="2.5" stroke-linecap="butt"/>
<line x1="1529.5" y1="433.15" x2="1529.5" y2="480.6" stroke="#000" stroke-width="2.5" stroke-linecap="butt"/>
<line x1="1523.7" y1="480.6" x2="1535.3" y2="480.6" stroke="#000" stroke-width="2.5" stroke-linecap="butt"/>
<rect x="1518.75" y="345.65" width="21.5" height="87.5" fill="#a0a0a0" stroke="#000" stroke-width="2.5"/>
<line x1="1518.75" y1="402.7" x2="1540.25" y2="402.7" stroke="#000" stroke-width="2.5" stroke-linecap="butt"/>
<line x1="1565.3" y1="455.65" x2="1565.3" y2="471.4" stroke="#000" stroke-width="2.5" stroke-linecap="butt"/>
<line x1="1559.5" y1="471.4" x2="1571.1" y2="471.4" stroke="#000" stroke-width="2.5" stroke-linecap="butt"/>
<rect x="1554.55" y="308.65" width="21.5" height="147" fill="#808080" stroke="#000" stroke-width="2.5"/>
<line x1="1554.55" y1="410.7" x2="1576.05" y2="410.7" stroke="#000" stroke-width="2.5" stroke-linecap="butt"/>
<line x1="1565.6" y1="153" x2="1565.6" y2="308.5" stroke="#000" stroke-width="2.5" stroke-linecap="butt"/>
<line x1="1565.6" y1="123.3" x2="1565.6" y2="135.3" stroke="#000" stroke-width="2.5" stroke-linecap="butt"/>
<line x1="1559.8" y1="123.3" x2="1571.4" y2="123.3" stroke="#000" stroke-width="2.5" stroke-linecap="butt"/>
<line x1="1601.3" y1="213.2" x2="1601.3" y2="354.85" stroke="#000" stroke-width="2.5" stroke-linecap="butt"/>
<line x1="1595.5" y1="213.2" x2="1607.1" y2="213.2" stroke="#000" stroke-width="2.5" stroke-linecap="butt"/>
<line x1="1601.3" y1="449.65" x2="1601.3" y2="463.2" stroke="#000" stroke-width="2.5" stroke-linecap="butt"/>
<line x1="1595.5" y1="463.2" x2="1607.1" y2="463.2" stroke="#000" stroke-width="2.5" stroke-linecap="butt"/>
<rect x="1590.55" y="354.85" width="21.5" height="94.8" fill="#808080" stroke="#000" stroke-width="2.5"/>
<line x1="1590.55" y1="412.4" x2="1612.05" y2="412.4" stroke="#000" stroke-width="2.5" stroke-linecap="butt"/>
<line x1="1637.1" y1="255.9" x2="1637.1" y2="349.85" stroke="#000" stroke-width="2.5" stroke-linecap="butt"/>
<line x1="1631.3" y1="255.9" x2="1642.9" y2="255.9" stroke="#000" stroke-width="2.5" stroke-linecap="butt"/>
<line x1="1637.1" y1="426.15" x2="1637.1" y2="464.7" stroke="#000" stroke-width="2.5" stroke-linecap="butt"/>
<line x1="1631.3" y1="464.7" x2="1642.9" y2="464.7" stroke="#000" stroke-width="2.5" stroke-linecap="butt"/>
<rect x="1626.35" y="349.85" width="21.5" height="76.3" fill="#d3d3d3" stroke="#000" stroke-width="2.5"/>
<line x1="1626.35" y1="403.4" x2="1647.85" y2="403.4" stroke="#000" stroke-width="2.5" stroke-linecap="butt"/>
<line x1="1696.7" y1="451.2" x2="1696.7" y2="472.85" stroke="#000" stroke-width="2.5" stroke-linecap="butt"/>
<line x1="1690.9" y1="451.2" x2="1702.5" y2="451.2" stroke="#000" stroke-width="2.5" stroke-linecap="butt"/>
<line x1="1696.7" y1="484.45" x2="1696.7" y2="496.4" stroke="#000" stroke-width="2.5" stroke-linecap="butt"/>
<line x1="1690.9" y1="496.4" x2="1702.5" y2="496.4" stroke="#000" stroke-width="2.5" stroke-linecap="butt"/>
<rect x="1685.95" y="472.85" width="21.5" height="11.6" fill="#646464" stroke="#000" stroke-width="2.5"/>
<line x1="1685.95" y1="478.4" x2="1707.45" y2="478.4" stroke="#000" stroke-width="2.5" stroke-linecap="butt"/>
<line x1="1732.5" y1="461.7" x2="1732.5" y2="472.65" stroke="#000" stroke-width="2.5" stroke-linecap="butt"/>
<line x1="1726.7" y1="461.7" x2="1738.3" y2="461.7" stroke="#000" stroke-width="2.5" stroke-linecap="butt"/>
<line x1="1732.5" y1="485.95" x2="1732.5" y2="492.4" stroke="#000" stroke-width="2.5" stroke-linecap="butt"/>
<line x1="1726.7" y1="492.4" x2="1738.3" y2="492.4" stroke="#000" stroke-width="2.5" stroke-linecap="butt"/>
<rect x="1721.75" y="472.65" width="21.5" height="13.3" fill="#a0a0a0" stroke="#000" stroke-width="2.5"/>
<line x1="1721.75" y1="477.2" x2="1743.25" y2="477.2" stroke="#000" stroke-width="2.5" stroke-linecap="butt"/>
<line x1="1768.5" y1="475.4" x2="1768.5" y2="479.65" stroke="#000" stroke-width="2.5" stroke-linecap="butt"/>
<line x1="1762.7" y1="475.4" x2="1774.3" y2="475.4" stroke="#000" stroke-width="2.5" stroke-linecap="butt"/>
<line x1="1768.5" y1="482.95" x2="1768.5" y2="490.7" stroke="#000" stroke-width="2.5" stroke-linecap="butt"/>
<line x1="1762.7" y1="490.7" x2="1774.3" y2="490.7" stroke="#000" stroke-width="2.5" stroke-linecap="butt"/>
<rect x="1757.75" y="479.65" width="21.5" height="3.3" fill="#646464" stroke="#000" stroke-width="2.5"/>
<line x1="1757.75" y1="481.2" x2="1779.25" y2="481.2" stroke="#000" stroke-width="2.5" stroke-linecap="butt"/>
<line x1="1804.3" y1="453.4" x2="1804.3" y2="473.15" stroke="#000" stroke-width="2.5" stroke-linecap="butt"/>
<line x1="1798.5" y1="453.4" x2="1810.1" y2="453.4" stroke="#000" stroke-width="2.5" stroke-linecap="butt"/>
<line x1="1804.3" y1="482.65" x2="1804.3" y2="492.9" stroke="#000" stroke-width="2.5" stroke-linecap="butt"/>
<line x1="1798.5" y1="492.9" x2="1810.1" y2="492.9" stroke="#000" stroke-width="2.5" stroke-linecap="butt"/>
<rect x="1793.55" y="473.15" width="21.5" height="9.5" fill="#e6e6e6" stroke="#000" stroke-width="2.5"/>
<line x1="1793.55" y1="477.4" x2="1815.05" y2="477.4" stroke="#000" stroke-width="2.5" stroke-linecap="butt"/>
<line x1="1864" y1="458.2" x2="1864" y2="478.35" stroke="#000" stroke-width="2.5" stroke-linecap="butt"/>
<line x1="1858.2" y1="458.2" x2="1869.8" y2="458.2" stroke="#000" stroke-width="2.5" stroke-linecap="butt"/>
<line x1="1864" y1="488.15" x2="1864" y2="496.4" stroke="#000" stroke-width="2.5" stroke-linecap="butt"/>
<line x1="1858.2" y1="496.4" x2="1869.8" y2="496.4" stroke="#000" stroke-width="2.5" stroke-linecap="butt"/>
<rect x="1853.25" y="478.35" width="21.5" height="9.8" fill="#a0a0a0" stroke="#000" stroke-width="2.5"/>
<line x1="1853.25" y1="484.9" x2="1874.75" y2="484.9" stroke="#000" stroke-width="2.5" stroke-linecap="butt"/>
<line x1="1899.9" y1="451.7" x2="1899.9" y2="475.65" stroke="#000" stroke-width="2.5" stroke-linecap="butt"/>
<line x1="1894.1" y1="451.7" x2="1905.7" y2="451.7" stroke="#000" stroke-width="2.5" stroke-linecap="butt"/>
<line x1="1899.9" y1="490.15" x2="1899.9" y2="493.2" stroke="#000" stroke-width="2.5" stroke-linecap="butt"/>
<line x1="1894.1" y1="493.2" x2="1905.7" y2="493.2" stroke="#000" stroke-width="2.5" stroke-linecap="butt"/>
<rect x="1889.15" y="475.65" width="21.5" height="14.5" fill="#808080" stroke="#000" stroke-width="2.5"/>
<line x1="1889.15" y1="483.7" x2="1910.65" y2="483.7" stroke="#000" stroke-width="2.5" stroke-linecap="butt"/>
<line x1="1935.7" y1="467.7" x2="1935.7" y2="482.65" stroke="#000" stroke-width="2.5" stroke-linecap="butt"/>
<line x1="1929.9" y1="467.7" x2="1941.5" y2="467.7" stroke="#000" stroke-width="2.5" stroke-linecap="butt"/>
<line x1="1935.7" y1="488.65" x2="1935.7" y2="493.7" stroke="#000" stroke-width="2.5" stroke-linecap="butt"/>
<line x1="1929.9" y1="493.7" x2="1941.5" y2="493.7" stroke="#000" stroke-width="2.5" stroke-linecap="butt"/>
<rect x="1924.95" y="482.65" width="21.5" height="6" fill="#a0a0a0" stroke="#000" stroke-width="2.5"/>
<line x1="1924.95" y1="487.2" x2="1946.45" y2="487.2" stroke="#000" stroke-width="2.5" stroke-linecap="butt"/>
<line x1="1971.5" y1="464.7" x2="1971.5" y2="473.85" stroke="#000" stroke-width="2.5" stroke-linecap="butt"/>
<line x1="1965.7" y1="464.7" x2="1977.3" y2="464.7" stroke="#000" stroke-width="2.5" stroke-linecap="butt"/>
<line x1="1971.5" y1="484.45" x2="1971.5" y2="493.9" stroke="#000" stroke-width="2.5" stroke-linecap="butt"/>
<line x1="1965.7" y1="493.9" x2="1977.3" y2="493.9" stroke="#000" stroke-width="2.5" stroke-linecap="butt"/>
<rect x="1960.75" y="473.85" width="21.5" height="10.6" fill="#808080" stroke="#000" stroke-width="2.5"/>
<line x1="1960.75" y1="483.4" x2="1982.25" y2="483.4" stroke="#000" stroke-width="2.5" stroke-linecap="butt"/>
<ellipse cx="1195.5" cy="200.3" rx="2.1" ry="1.65" fill="#000"/>
<ellipse cx="1195.5" cy="250.3" rx="2.1" ry="1.65" fill="#000"/>
<ellipse cx="1195.5" cy="255" rx="2.1" ry="1.65" fill="#000"/>
<ellipse cx="1192" cy="263.3" rx="2.1" ry="1.65" fill="#000"/>
<ellipse cx="1198" cy="261.8" rx="2.1" ry="1.65" fill="#000"/>
<ellipse cx="1231.5" cy="40.5" rx="2.1" ry="1.65" fill="#000"/>
<ellipse cx="1267.3" cy="252.5" rx="2.1" ry="1.65" fill="#000"/>
<ellipse cx="1267.3" cy="261.3" rx="2.1" ry="1.65" fill="#000"/>
<ellipse cx="1303.2" cy="192.8" rx="2.1" ry="1.65" fill="#000"/>
<ellipse cx="1303.2" cy="205" rx="2.1" ry="1.65" fill="#000"/>
<ellipse cx="1303.2" cy="213.8" rx="2.1" ry="1.65" fill="#000"/>
<ellipse cx="1303.2" cy="249.5" rx="2.1" ry="1.65" fill="#000"/>
<ellipse cx="1300.6" cy="297" rx="2.1" ry="1.65" fill="#000"/>
<ellipse cx="1305.8" cy="297" rx="2.1" ry="1.65" fill="#000"/>
<ellipse cx="1362.6" cy="134" rx="2.1" ry="1.65" fill="#000"/>
<ellipse cx="1360.6" cy="201.5" rx="2.1" ry="1.65" fill="#000"/>
<ellipse cx="1365.1" cy="203" rx="2.1" ry="1.65" fill="#000"/>
<ellipse cx="1362.6" cy="209" rx="2.1" ry="1.65" fill="#000"/>
<ellipse cx="1398.4" cy="26.8" rx="2.1" ry="1.65" fill="#000"/>
<ellipse cx="1434.3" cy="213.3" rx="2.1" ry="1.65" fill="#000"/>
<ellipse cx="1434.3" cy="226" rx="2.1" ry="1.65" fill="#000"/>
<ellipse cx="1470.3" cy="127.5" rx="2.1" ry="1.65" fill="#000"/>
<ellipse cx="1470.3" cy="157.3" rx="2.1" ry="1.65" fill="#000"/>
<ellipse cx="1470.3" cy="169" rx="2.1" ry="1.65" fill="#000"/>
<ellipse cx="1470.3" cy="204.5" rx="2.1" ry="1.65" fill="#000"/>
<ellipse cx="1529.8" cy="131.8" rx="2.1" ry="1.65" fill="#000"/>
<ellipse cx="1529.8" cy="185.5" rx="2.1" ry="1.65" fill="#000"/>
<ellipse cx="1526.6" cy="191.2" rx="2.1" ry="1.65" fill="#000"/>
<ellipse cx="1532.6" cy="189.8" rx="2.1" ry="1.65" fill="#000"/>
<ellipse cx="1565.6" cy="24.3" rx="2.1" ry="1.65" fill="#000"/>
<ellipse cx="1601.6" cy="204" rx="2.1" ry="1.65" fill="#000"/>
<ellipse cx="1637.4" cy="119.8" rx="2.1" ry="1.65" fill="#000"/>
<ellipse cx="1637.4" cy="134" rx="2.1" ry="1.65" fill="#000"/>
<ellipse cx="1637.4" cy="154.5" rx="2.1" ry="1.65" fill="#000"/>
<ellipse cx="1637.4" cy="198" rx="2.1" ry="1.65" fill="#000"/>
<ellipse cx="1637.4" cy="224" rx="2.1" ry="1.65" fill="#000"/>
<ellipse cx="1697" cy="439" rx="2.1" ry="1.65" fill="#000"/>
<ellipse cx="1697" cy="443.3" rx="2.1" ry="1.65" fill="#000"/>
<ellipse cx="1732.8" cy="394.5" rx="2.1" ry="1.65" fill="#000"/>
<ellipse cx="1732.8" cy="435.8" rx="2.1" ry="1.65" fill="#000"/>
<ellipse cx="1768.8" cy="423.3" rx="2.1" ry="1.65" fill="#000"/>
<ellipse cx="1768.8" cy="453" rx="2.1" ry="1.65" fill="#000"/>
<ellipse cx="1804.6" cy="421.3" rx="2.1" ry="1.65" fill="#000"/>
<ellipse cx="1861.3" cy="456.3" rx="2.1" ry="1.65" fill="#000"/>
<ellipse cx="1867.1" cy="454.8" rx="2.1" ry="1.65" fill="#000"/>
<ellipse cx="1900.2" cy="434" rx="2.1" ry="1.65" fill="#000"/>
<ellipse cx="1971.8" cy="431.3" rx="2.1" ry="1.65" fill="#000"/>
<text x="1195.5" y="545.6" font-family='"Liberation Sans", Arial, sans-serif' font-size="14.5" font-weight="bold" text-anchor="middle" textLength="5.04" lengthAdjust="spacingAndGlyphs">I</text>
<text x="1231.5" y="545.6" font-family='"Liberation Sans", Arial, sans-serif' font-size="14.5" font-weight="bold" text-anchor="middle" textLength="10.07" lengthAdjust="spacingAndGlyphs">II</text>
<text x="1267.3" y="545.6" font-family='"Liberation Sans", Arial, sans-serif' font-size="14.5" font-weight="bold" text-anchor="middle" textLength="15.11" lengthAdjust="spacingAndGlyphs">III</text>
<text x="1303.2" y="545.6" font-family='"Liberation Sans", Arial, sans-serif' font-size="14.5" font-weight="bold" text-anchor="middle" textLength="17.13" lengthAdjust="spacingAndGlyphs">IV</text>
<text x="1362.6" y="545.6" font-family='"Liberation Sans", Arial, sans-serif' font-size="14.5" font-weight="bold" text-anchor="middle" textLength="5.04" lengthAdjust="spacingAndGlyphs">I</text>
<text x="1398.4" y="545.6" font-family='"Liberation Sans", Arial, sans-serif' font-size="14.5" font-weight="bold" text-anchor="middle" textLength="10.07" lengthAdjust="spacingAndGlyphs">II</text>
<text x="1434.3" y="545.6" font-family='"Liberation Sans", Arial, sans-serif' font-size="14.5" font-weight="bold" text-anchor="middle" textLength="15.11" lengthAdjust="spacingAndGlyphs">III</text>
<text x="1470.3" y="545.6" font-family='"Liberation Sans", Arial, sans-serif' font-size="14.5" font-weight="bold" text-anchor="middle" textLength="17.13" lengthAdjust="spacingAndGlyphs">IV</text>
<text x="1529.8" y="545.6" font-family='"Liberation Sans", Arial, sans-serif' font-size="14.5" font-weight="bold" text-anchor="middle" textLength="5.04" lengthAdjust="spacingAndGlyphs">I</text>
<text x="1565.6" y="545.6" font-family='"Liberation Sans", Arial, sans-serif' font-size="14.5" font-weight="bold" text-anchor="middle" textLength="10.07" lengthAdjust="spacingAndGlyphs">II</text>
<text x="1601.6" y="545.6" font-family='"Liberation Sans", Arial, sans-serif' font-size="14.5" font-weight="bold" text-anchor="middle" textLength="15.11" lengthAdjust="spacingAndGlyphs">III</text>
<text x="1637.4" y="545.6" font-family='"Liberation Sans", Arial, sans-serif' font-size="14.5" font-weight="bold" text-anchor="middle" textLength="17.13" lengthAdjust="spacingAndGlyphs">IV</text>
<text x="1697" y="545.6" font-family='"Liberation Sans", Arial, sans-serif' font-size="14.5" font-weight="bold" text-anchor="middle" textLength="5.04" lengthAdjust="spacingAndGlyphs">I</text>
<text x="1732.8" y="545.6" font-family='"Liberation Sans", Arial, sans-serif' font-size="14.5" font-weight="bold" text-anchor="middle" textLength="10.07" lengthAdjust="spacingAndGlyphs">II</text>
<text x="1768.8" y="545.6" font-family='"Liberation Sans", Arial, sans-serif' font-size="14.5" font-weight="bold" text-anchor="middle" textLength="15.11" lengthAdjust="spacingAndGlyphs">III</text>
<text x="1804.6" y="545.6" font-family='"Liberation Sans", Arial, sans-serif' font-size="14.5" font-weight="bold" text-anchor="middle" textLength="17.13" lengthAdjust="spacingAndGlyphs">IV</text>
<text x="1864.3" y="545.6" font-family='"Liberation Sans", Arial, sans-serif' font-size="14.5" font-weight="bold" text-anchor="middle" textLength="5.04" lengthAdjust="spacingAndGlyphs">I</text>
<text x="1900.2" y="545.6" font-family='"Liberation Sans", Arial, sans-serif' font-size="14.5" font-weight="bold" text-anchor="middle" textLength="10.07" lengthAdjust="spacingAndGlyphs">II</text>
<text x="1936" y="545.6" font-family='"Liberation Sans", Arial, sans-serif' font-size="14.5" font-weight="bold" text-anchor="middle" textLength="15.11" lengthAdjust="spacingAndGlyphs">III</text>
<text x="1971.8" y="545.6" font-family='"Liberation Sans", Arial, sans-serif' font-size="14.5" font-weight="bold" text-anchor="middle" textLength="17.13" lengthAdjust="spacingAndGlyphs">IV</text>
<text x="1262" y="578.5" font-family='"Liberation Sans", Arial, sans-serif' font-size="13.8" font-weight="bold" text-anchor="middle" textLength="84.86" lengthAdjust="spacingAndGlyphs">35-250 bp</text>
<text x="1420.8" y="578.5" font-family='"Liberation Sans", Arial, sans-serif' font-size="13.8" font-weight="bold" text-anchor="middle" textLength="95.09" lengthAdjust="spacingAndGlyphs">35-1000 bp</text>
<text x="1590.5" y="578.5" font-family='"Liberation Sans", Arial, sans-serif' font-size="13.8" font-weight="bold" text-anchor="middle" textLength="105.32" lengthAdjust="spacingAndGlyphs">35-10380 bp</text>
<text x="1759.8" y="578.5" font-family='"Liberation Sans", Arial, sans-serif' font-size="13.8" font-weight="bold" text-anchor="middle" textLength="115.55" lengthAdjust="spacingAndGlyphs">500-10380 bp</text>
<text x="1918.8" y="578.5" font-family='"Liberation Sans", Arial, sans-serif' font-size="13.8" font-weight="bold" text-anchor="middle" textLength="95.09" lengthAdjust="spacingAndGlyphs">250-500 bp</text>
<text x="13" y="734.8" font-family='"Liberation Serif", "Times New Roman", serif' font-size="32.5" font-weight="bold" text-anchor="start">d)</text>
<line x1="104.75" y1="733.8" x2="104.75" y2="852.5" stroke="#000" stroke-width="2.15" stroke-linecap="butt"/>
<line x1="99.5" y1="852.5" x2="110" y2="852.5" stroke="#000" stroke-width="2.15" stroke-linecap="butt"/>
<line x1="104.75" y1="869.8" x2="104.75" y2="1201.88" stroke="#000" stroke-width="2.15" stroke-linecap="butt"/>
<line x1="99.5" y1="869.8" x2="110" y2="869.8" stroke="#000" stroke-width="2.15" stroke-linecap="butt"/>
<line x1="95.5" y1="754.3" x2="104.75" y2="754.3" stroke="#000" stroke-width="2.15" stroke-linecap="butt"/>
<text x="92.6" y="760.2" font-family='"Liberation Sans", Arial, sans-serif' font-size="15.4" font-weight="bold" text-anchor="end">4000</text>
<line x1="95.5" y1="794" x2="104.75" y2="794" stroke="#000" stroke-width="2.15" stroke-linecap="butt"/>
<text x="92.6" y="799.9" font-family='"Liberation Sans", Arial, sans-serif' font-size="15.4" font-weight="bold" text-anchor="end">3000</text>
<line x1="95.5" y1="833.3" x2="104.75" y2="833.3" stroke="#000" stroke-width="2.15" stroke-linecap="butt"/>
<text x="92.6" y="839.2" font-family='"Liberation Sans", Arial, sans-serif' font-size="15.4" font-weight="bold" text-anchor="end">2000</text>
<text x="92.6" y="875.7" font-family='"Liberation Sans", Arial, sans-serif' font-size="15.4" font-weight="bold" text-anchor="end">1500</text>
<line x1="95.5" y1="924.8" x2="104.75" y2="924.8" stroke="#000" stroke-width="2.15" stroke-linecap="butt"/>
<text x="92.6" y="930.7" font-family='"Liberation Sans", Arial, sans-serif' font-size="15.4" font-weight="bold" text-anchor="end">1250</text>
<line x1="95.5" y1="980" x2="104.75" y2="980" stroke="#000" stroke-width="2.15" stroke-linecap="butt"/>
<text x="92.6" y="985.9" font-family='"Liberation Sans", Arial, sans-serif' font-size="15.4" font-weight="bold" text-anchor="end">1000</text>
<line x1="95.5" y1="1035.2" x2="104.75" y2="1035.2" stroke="#000" stroke-width="2.15" stroke-linecap="butt"/>
<text x="92.6" y="1041.1" font-family='"Liberation Sans", Arial, sans-serif' font-size="15.4" font-weight="bold" text-anchor="end">750</text>
<line x1="95.5" y1="1090.4" x2="104.75" y2="1090.4" stroke="#000" stroke-width="2.15" stroke-linecap="butt"/>
<text x="92.6" y="1096.3" font-family='"Liberation Sans", Arial, sans-serif' font-size="15.4" font-weight="bold" text-anchor="end">500</text>
<line x1="95.5" y1="1145.6" x2="104.75" y2="1145.6" stroke="#000" stroke-width="2.15" stroke-linecap="butt"/>
<text x="92.6" y="1151.5" font-family='"Liberation Sans", Arial, sans-serif' font-size="15.4" font-weight="bold" text-anchor="end">250</text>
<line x1="95.5" y1="1200.8" x2="104.75" y2="1200.8" stroke="#000" stroke-width="2.15" stroke-linecap="butt"/>
<text x="92.6" y="1206.7" font-family='"Liberation Sans", Arial, sans-serif' font-size="15.4" font-weight="bold" text-anchor="end">0</text>
<line x1="95.5" y1="1200.8" x2="602.5" y2="1200.8" stroke="#000" stroke-width="2.15" stroke-linecap="butt"/>
<line x1="132.5" y1="1200.8" x2="132.5" y2="1210.5" stroke="#000" stroke-width="2.15" stroke-linecap="butt"/>
<line x1="175" y1="1200.8" x2="175" y2="1210.5" stroke="#000" stroke-width="2.15" stroke-linecap="butt"/>
<line x1="232" y1="1200.8" x2="232" y2="1210.5" stroke="#000" stroke-width="2.15" stroke-linecap="butt"/>
<line x1="274.5" y1="1200.8" x2="274.5" y2="1210.5" stroke="#000" stroke-width="2.15" stroke-linecap="butt"/>
<line x1="331.3" y1="1200.8" x2="331.3" y2="1210.5" stroke="#000" stroke-width="2.15" stroke-linecap="butt"/>
<line x1="373.8" y1="1200.8" x2="373.8" y2="1210.5" stroke="#000" stroke-width="2.15" stroke-linecap="butt"/>
<line x1="430.5" y1="1200.8" x2="430.5" y2="1210.5" stroke="#000" stroke-width="2.15" stroke-linecap="butt"/>
<line x1="473.3" y1="1200.8" x2="473.3" y2="1210.5" stroke="#000" stroke-width="2.15" stroke-linecap="butt"/>
<line x1="529.3" y1="1200.8" x2="529.3" y2="1210.5" stroke="#000" stroke-width="2.15" stroke-linecap="butt"/>
<line x1="572" y1="1200.8" x2="572" y2="1210.5" stroke="#000" stroke-width="2.15" stroke-linecap="butt"/>
<text x="22.6" y="979.1" font-family='"Liberation Sans", Arial, sans-serif' font-size="15.6" font-weight="bold" text-anchor="middle" textLength="211.4" lengthAdjust="spacingAndGlyphs" transform="rotate(-90 22.6 979.1)">cfDNA concentration [pg/µl]</text>
<line x1="132.5" y1="1098.8" x2="132.5" y2="1102.28" stroke="#000" stroke-width="2.15" stroke-linecap="butt"/>
<line x1="125.75" y1="1098.8" x2="139.25" y2="1098.8" stroke="#000" stroke-width="2.15" stroke-linecap="butt"/>
<line x1="132.5" y1="1160.22" x2="132.5" y2="1177" stroke="#000" stroke-width="2.15" stroke-linecap="butt"/>
<line x1="125.75" y1="1177" x2="139.25" y2="1177" stroke="#000" stroke-width="2.15" stroke-linecap="butt"/>
<rect x="119.48" y="1102.28" width="26.05" height="57.95" fill="#808080" stroke="#000" stroke-width="2.15"/>
<line x1="119.48" y1="1152.3" x2="145.53" y2="1152.3" stroke="#000" stroke-width="2.15" stroke-linecap="butt"/>
<line x1="175" y1="1120.5" x2="175" y2="1148.08" stroke="#000" stroke-width="2.15" stroke-linecap="butt"/>
<line x1="168.25" y1="1120.5" x2="181.75" y2="1120.5" stroke="#000" stroke-width="2.15" stroke-linecap="butt"/>
<line x1="175" y1="1150.72" x2="175" y2="1177.5" stroke="#000" stroke-width="2.15" stroke-linecap="butt"/>
<line x1="168.25" y1="1177.5" x2="181.75" y2="1177.5" stroke="#000" stroke-width="2.15" stroke-linecap="butt"/>
<rect x="161.57" y="1148.08" width="26.85" height="2.65" fill="#000" stroke="#000" stroke-width="2.15"/>
<line x1="232" y1="963.8" x2="232" y2="1074.78" stroke="#000" stroke-width="2.15" stroke-linecap="butt"/>
<line x1="225.25" y1="963.8" x2="238.75" y2="963.8" stroke="#000" stroke-width="2.15" stroke-linecap="butt"/>
<line x1="232" y1="1167.22" x2="232" y2="1185" stroke="#000" stroke-width="2.15" stroke-linecap="butt"/>
<line x1="225.25" y1="1185" x2="238.75" y2="1185" stroke="#000" stroke-width="2.15" stroke-linecap="butt"/>
<rect x="218.97" y="1074.78" width="26.05" height="92.45" fill="#646464" stroke="#000" stroke-width="2.15"/>
<line x1="218.97" y1="1118.8" x2="245.03" y2="1118.8" stroke="#000" stroke-width="2.15" stroke-linecap="butt"/>
<line x1="274.5" y1="1008" x2="274.5" y2="1075.58" stroke="#000" stroke-width="2.15" stroke-linecap="butt"/>
<line x1="267.75" y1="1008" x2="281.25" y2="1008" stroke="#000" stroke-width="2.15" stroke-linecap="butt"/>
<line x1="274.5" y1="1172.42" x2="274.5" y2="1180.8" stroke="#000" stroke-width="2.15" stroke-linecap="butt"/>
<line x1="267.75" y1="1180.8" x2="281.25" y2="1180.8" stroke="#000" stroke-width="2.15" stroke-linecap="butt"/>
<rect x="261.47" y="1075.58" width="26.05" height="96.85" fill="#a0a0a0" stroke="#000" stroke-width="2.15"/>
<line x1="261.47" y1="1139.3" x2="287.53" y2="1139.3" stroke="#000" stroke-width="2.15" stroke-linecap="butt"/>
<line x1="331.3" y1="1138" x2="331.3" y2="1140.78" stroke="#000" stroke-width="2.15" stroke-linecap="butt"/>
<line x1="324.55" y1="1138" x2="338.05" y2="1138" stroke="#000" stroke-width="2.15" stroke-linecap="butt"/>
<line x1="331.3" y1="1149.42" x2="331.3" y2="1151.8" stroke="#000" stroke-width="2.15" stroke-linecap="butt"/>
<line x1="324.55" y1="1151.8" x2="338.05" y2="1151.8" stroke="#000" stroke-width="2.15" stroke-linecap="butt"/>
<rect x="318.27" y="1140.78" width="26.05" height="8.65" fill="#808080" stroke="#000" stroke-width="2.15"/>
<line x1="318.27" y1="1145.8" x2="344.33" y2="1145.8" stroke="#000" stroke-width="2.15" stroke-linecap="butt"/>
<line x1="373.8" y1="1113.3" x2="373.8" y2="1137.08" stroke="#000" stroke-width="2.15" stroke-linecap="butt"/>
<line x1="367.05" y1="1113.3" x2="380.55" y2="1113.3" stroke="#000" stroke-width="2.15" stroke-linecap="butt"/>
<line x1="373.8" y1="1140.22" x2="373.8" y2="1164" stroke="#000" stroke-width="2.15" stroke-linecap="butt"/>
<line x1="367.05" y1="1164" x2="380.55" y2="1164" stroke="#000" stroke-width="2.15" stroke-linecap="butt"/>
<rect x="360.38" y="1137.08" width="26.85" height="3.15" fill="#000" stroke="#000" stroke-width="2.15"/>
<line x1="430.5" y1="963.5" x2="430.5" y2="1087.08" stroke="#000" stroke-width="2.15" stroke-linecap="butt"/>
<line x1="423.75" y1="963.5" x2="437.25" y2="963.5" stroke="#000" stroke-width="2.15" stroke-linecap="butt"/>
<line x1="430.5" y1="1168.72" x2="430.5" y2="1192.8" stroke="#000" stroke-width="2.15" stroke-linecap="butt"/>
<line x1="423.75" y1="1192.8" x2="437.25" y2="1192.8" stroke="#000" stroke-width="2.15" stroke-linecap="butt"/>
<rect x="417.47" y="1087.08" width="26.05" height="81.65" fill="#a0a0a0" stroke="#000" stroke-width="2.15"/>
<line x1="417.47" y1="1143.5" x2="443.53" y2="1143.5" stroke="#000" stroke-width="2.15" stroke-linecap="butt"/>
<line x1="473.3" y1="907.8" x2="473.3" y2="986.78" stroke="#000" stroke-width="2.15" stroke-linecap="butt"/>
<line x1="466.55" y1="907.8" x2="480.05" y2="907.8" stroke="#000" stroke-width="2.15" stroke-linecap="butt"/>
<line x1="473.3" y1="1156.72" x2="473.3" y2="1179.5" stroke="#000" stroke-width="2.15" stroke-linecap="butt"/>
<line x1="466.55" y1="1179.5" x2="480.05" y2="1179.5" stroke="#000" stroke-width="2.15" stroke-linecap="butt"/>
<rect x="460.27" y="986.78" width="26.05" height="169.95" fill="#808080" stroke="#000" stroke-width="2.15"/>
<line x1="460.27" y1="1149.3" x2="486.33" y2="1149.3" stroke="#000" stroke-width="2.15" stroke-linecap="butt"/>
<line x1="529.3" y1="1112.8" x2="529.3" y2="1118.08" stroke="#000" stroke-width="2.15" stroke-linecap="butt"/>
<line x1="522.55" y1="1112.8" x2="536.05" y2="1112.8" stroke="#000" stroke-width="2.15" stroke-linecap="butt"/>
<line x1="529.3" y1="1179.72" x2="529.3" y2="1184.3" stroke="#000" stroke-width="2.15" stroke-linecap="butt"/>
<line x1="522.55" y1="1184.3" x2="536.05" y2="1184.3" stroke="#000" stroke-width="2.15" stroke-linecap="butt"/>
<rect x="516.27" y="1118.08" width="26.05" height="61.65" fill="#a0a0a0" stroke="#000" stroke-width="2.15"/>
<line x1="516.27" y1="1150.3" x2="542.32" y2="1150.3" stroke="#000" stroke-width="2.15" stroke-linecap="butt"/>
<line x1="572" y1="1143.3" x2="572" y2="1145.38" stroke="#000" stroke-width="2.15" stroke-linecap="butt"/>
<line x1="565.25" y1="1143.3" x2="578.75" y2="1143.3" stroke="#000" stroke-width="2.15" stroke-linecap="butt"/>
<line x1="572" y1="1148.22" x2="572" y2="1150.3" stroke="#000" stroke-width="2.15" stroke-linecap="butt"/>
<line x1="565.25" y1="1150.3" x2="578.75" y2="1150.3" stroke="#000" stroke-width="2.15" stroke-linecap="butt"/>
<rect x="558.83" y="1145.38" width="26.35" height="2.85" fill="#000" stroke="#000" stroke-width="2.15"/>
<circle cx="232" cy="761" r="1.5" fill="#000"/>
<circle cx="430.5" cy="907.5" r="1.5" fill="#000"/>
<circle cx="430.5" cy="915.5" r="1.5" fill="#000"/>
<text x="138.5" y="1247.5" font-family='"Liberation Sans", Arial, sans-serif' font-size="15.7" font-weight="bold" text-anchor="end" transform="rotate(-45 138.5 1247.5)">GROUP 1 PTu</text>
<text x="181" y="1247.5" font-family='"Liberation Sans", Arial, sans-serif' font-size="15.7" font-weight="bold" text-anchor="end" transform="rotate(-45 181 1247.5)">GROUP 1 RTu</text>
<text x="238" y="1247.5" font-family='"Liberation Sans", Arial, sans-serif' font-size="15.7" font-weight="bold" text-anchor="end" transform="rotate(-45 238 1247.5)">GROUP 2 PTU</text>
<text x="280.5" y="1247.5" font-family='"Liberation Sans", Arial, sans-serif' font-size="15.7" font-weight="bold" text-anchor="end" transform="rotate(-45 280.5 1247.5)">GROUP 2 RTu</text>
<text x="337.3" y="1247.5" font-family='"Liberation Sans", Arial, sans-serif' font-size="15.7" font-weight="bold" text-anchor="end" transform="rotate(-45 337.3 1247.5)">GROUP 4 PTu</text>
<text x="379.8" y="1247.5" font-family='"Liberation Sans", Arial, sans-serif' font-size="15.7" font-weight="bold" text-anchor="end" transform="rotate(-45 379.8 1247.5)">GROUP 4 RTu</text>
<text x="436.5" y="1247.5" font-family='"Liberation Sans", Arial, sans-serif' font-size="15.7" font-weight="bold" text-anchor="end" transform="rotate(-45 436.5 1247.5)">GROUP 5 PTu</text>
<text x="479.3" y="1247.5" font-family='"Liberation Sans", Arial, sans-serif' font-size="15.7" font-weight="bold" text-anchor="end" transform="rotate(-45 479.3 1247.5)">GROUP 5 RTu</text>
<text x="535.3" y="1247.5" font-family='"Liberation Sans", Arial, sans-serif' font-size="15.7" font-weight="bold" text-anchor="end" transform="rotate(-45 535.3 1247.5)">GROUP 6 PTu</text>
<text x="578" y="1247.5" font-family='"Liberation Sans", Arial, sans-serif' font-size="15.7" font-weight="bold" text-anchor="end" transform="rotate(-45 578 1247.5)">GROUP 6 RTu</text>
<text x="316.9" y="1350.4" font-family='"Liberation Sans", Arial, sans-serif' font-size="15" font-weight="bold" text-anchor="middle" textLength="69.7" lengthAdjust="spacingAndGlyphs">35-250bp</text>
<text x="690" y="734.8" font-family='"Liberation Serif", "Times New Roman", serif' font-size="32.5" font-weight="bold" text-anchor="start">e)</text>
<line x1="780.5" y1="743.55" x2="780.5" y2="1201.15" stroke="#000" stroke-width="2.9" stroke-linecap="butt"/>
<line x1="768.6" y1="745.3" x2="780.5" y2="745.3" stroke="#000" stroke-width="2.9" stroke-linecap="butt"/>
<text x="765.8" y="751.5" font-family='"Liberation Sans", Arial, sans-serif' font-size="15.8" font-weight="bold" text-anchor="end">400</text>
<line x1="768.6" y1="858.9" x2="780.5" y2="858.9" stroke="#000" stroke-width="2.9" stroke-linecap="butt"/>
<text x="765.8" y="865.1" font-family='"Liberation Sans", Arial, sans-serif' font-size="15.8" font-weight="bold" text-anchor="end">300</text>
<line x1="768.6" y1="972.5" x2="780.5" y2="972.5" stroke="#000" stroke-width="2.9" stroke-linecap="butt"/>
<text x="765.8" y="978.7" font-family='"Liberation Sans", Arial, sans-serif' font-size="15.8" font-weight="bold" text-anchor="end">200</text>
<line x1="768.6" y1="1086.1" x2="780.5" y2="1086.1" stroke="#000" stroke-width="2.9" stroke-linecap="butt"/>
<text x="765.8" y="1092.3" font-family='"Liberation Sans", Arial, sans-serif' font-size="15.8" font-weight="bold" text-anchor="end">100</text>
<line x1="768.6" y1="1199.7" x2="780.5" y2="1199.7" stroke="#000" stroke-width="2.9" stroke-linecap="butt"/>
<text x="765.8" y="1205.9" font-family='"Liberation Sans", Arial, sans-serif' font-size="15.8" font-weight="bold" text-anchor="end">0</text>
<line x1="768.8" y1="1199.7" x2="887.5" y2="1199.7" stroke="#000" stroke-width="2.9" stroke-linecap="butt"/>
<line x1="810.6" y1="1199.7" x2="810.6" y2="1212" stroke="#000" stroke-width="2.9" stroke-linecap="butt"/>
<line x1="856" y1="1199.7" x2="856" y2="1212" stroke="#000" stroke-width="2.9" stroke-linecap="butt"/>
<text x="712.7" y="995.4" font-family='"Liberation Sans", Arial, sans-serif' font-size="15.8" font-weight="bold" text-anchor="middle" textLength="208.7" lengthAdjust="spacingAndGlyphs" transform="rotate(-90 712.7 995.4)">cfDNA concentration [pg/µl]</text>
<line x1="810.6" y1="1028.6" x2="810.6" y2="1102.15" stroke="#000" stroke-width="2.9" stroke-linecap="butt"/>
<line x1="803.2" y1="1028.6" x2="818" y2="1028.6" stroke="#000" stroke-width="2.9" stroke-linecap="butt"/>
<line x1="810.6" y1="1162.85" x2="810.6" y2="1198" stroke="#000" stroke-width="2.9" stroke-linecap="butt"/>
<line x1="803.2" y1="1198" x2="818" y2="1198" stroke="#000" stroke-width="2.9" stroke-linecap="butt"/>
<rect x="797.3" y="1102.15" width="26.6" height="60.7" fill="#808080" stroke="#000" stroke-width="2.9"/>
<line x1="797.3" y1="1146" x2="823.9" y2="1146" stroke="#000" stroke-width="2.9" stroke-linecap="butt"/>
<line x1="856" y1="1037.3" x2="856" y2="1063.15" stroke="#000" stroke-width="2.9" stroke-linecap="butt"/>
<line x1="848.6" y1="1037.3" x2="863.4" y2="1037.3" stroke="#000" stroke-width="2.9" stroke-linecap="butt"/>
<line x1="856" y1="1139.35" x2="856" y2="1183.5" stroke="#000" stroke-width="2.9" stroke-linecap="butt"/>
<line x1="848.6" y1="1183.5" x2="863.4" y2="1183.5" stroke="#000" stroke-width="2.9" stroke-linecap="butt"/>
<rect x="842.7" y="1063.15" width="26.6" height="76.2" fill="#a0a0a0" stroke="#000" stroke-width="2.9"/>
<line x1="842.7" y1="1130.8" x2="869.3" y2="1130.8" stroke="#000" stroke-width="2.9" stroke-linecap="butt"/>
<circle cx="810.5" cy="974" r="3.5" fill="#000"/>
<circle cx="816.3" cy="990" r="3.5" fill="#000"/>
<circle cx="804.8" cy="995.3" r="3.5" fill="#000"/>
<circle cx="855.8" cy="874.5" r="3.5" fill="#000"/>
<path d="M810.5 857.5V840.5H856V857.5" fill="none" stroke="#000" stroke-width="1.4"/>
<text x="831.3" y="834.3" font-family='"Liberation Serif", "Times New Roman", serif' font-size="23" font-weight="normal" text-anchor="middle">*</text>
<text x="815.1" y="1242.5" font-family='"Liberation Sans", Arial, sans-serif' font-size="15.9" font-weight="bold" text-anchor="end" transform="rotate(-45 815.1 1242.5)">GROUP 5 PTu</text>
<text x="860.5" y="1242.5" font-family='"Liberation Sans", Arial, sans-serif' font-size="15.9" font-weight="bold" text-anchor="end" transform="rotate(-45 860.5 1242.5)">GROUP 5 RTu</text>
<text x="824.8" y="1349" font-family='"Liberation Sans", Arial, sans-serif' font-size="15" font-weight="bold" text-anchor="middle" textLength="81.1" lengthAdjust="spacingAndGlyphs">250-500 bp</text>
</svg>
</body>
</html>
